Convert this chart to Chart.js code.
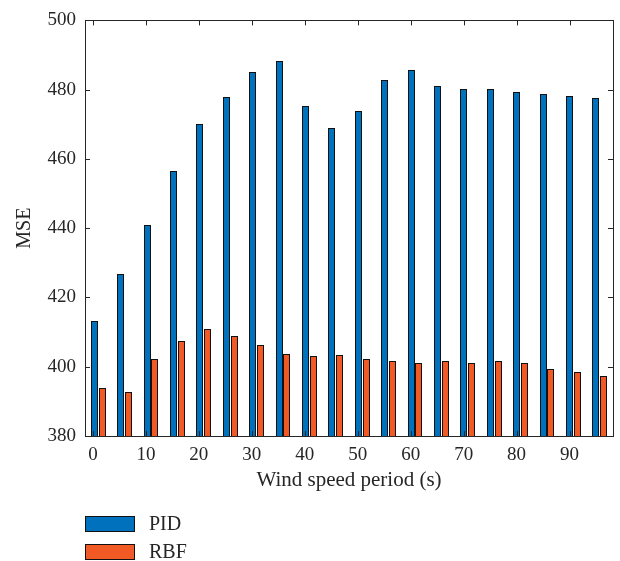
<!DOCTYPE html>
<html>
<head>
<meta charset="utf-8">
<script src="https://cdn.jsdelivr.net/npm/chart.js@4"></script>
<style>
  html, body { margin: 0; padding: 0; background: #fff; }
  #wrap { position: relative; width: 620px; height: 561px; }
  #legend { position: absolute; left: 85px; top: 516px; font-family: "Liberation Serif", serif; font-size: 20px; color: #262626; }
  #legend .item { display: flex; align-items: center; height: 15px; margin-bottom: 13px; }
  #legend .box { width: 48px; height: 14px; border: 1px solid #111; margin-right: 14px; }
</style>
</head>
<body>
<div id="wrap">
  <canvas id="mse" width="620" height="561"></canvas>
  <div id="legend"></div>
</div>
<script>
// wind speed periods (s)
const periods = [0, 5, 10, 15, 20, 25, 30, 35, 40, 45, 50, 55, 60, 65, 70, 75, 80, 85, 90, 95];
const pidMse = [413.3, 426.9, 440.8, 456.6, 470.0, 477.9, 485.2, 488.3, 475.4, 468.8,
                473.8, 482.7, 485.6, 481.1, 480.3, 480.1, 479.4, 478.8, 478.3, 477.5];
const rbfMse = [393.9, 392.6, 402.2, 407.3, 411.0, 408.9, 406.3, 403.6, 403.1, 403.3,
                402.2, 401.7, 401.0, 401.7, 401.2, 401.7, 401.0, 399.4, 398.4, 397.2];
const yTicks = [380, 400, 420, 440, 460, 480, 500];
const xTicks = [0, 10, 20, 30, 40, 50, 60, 70, 80, 90];

const ink = "#262626";
const serif = "'Liberation Serif', 'Times New Roman', serif";

// snap bars to whole pixels so the 1px outlines stay crisp
const snapPlugin = {
  id: "snap",
  afterDatasetsUpdate(chart) {
    chart.data.datasets.forEach((ds, i) => {
      chart.getDatasetMeta(i).data.forEach((el) => {
        const w = Math.round(el.width);
        const left = Math.round(el.x - el.width / 2);
        el.width = w;
        el.x = left + w / 2;
        el.y = Math.round(el.y);
        el.base = Math.round(el.base);
      });
    });
  },
};

// box around the axes with inward tick marks on all four sides
const framePlugin = {
  id: "frame",
  afterDraw(chart) {
    const { ctx, chartArea: a, scales } = chart;
    const len = 5;
    ctx.save();
    ctx.strokeStyle = ink;
    ctx.lineWidth = 1;
    ctx.beginPath();
    scales.y.ticks.forEach((t) => {
      const y = Math.round(scales.y.getPixelForValue(t.value)) + 0.5;
      ctx.moveTo(a.left, y); ctx.lineTo(a.left + len, y);
      ctx.moveTo(a.right, y); ctx.lineTo(a.right - len, y);
    });
    scales.xt.ticks.forEach((t) => {
      const x = Math.round(scales.xt.getPixelForValue(t.value)) + 0.5;
      ctx.moveTo(x, a.top); ctx.lineTo(x, a.top + len);
      ctx.moveTo(x, a.bottom); ctx.lineTo(x, a.bottom - len);
    });
    ctx.stroke();
    ctx.strokeRect(Math.round(a.left) + 0.5, Math.round(a.top) + 0.5,
      Math.round(a.right - a.left), Math.round(a.bottom - a.top));
    ctx.restore();
  },
};

const chart = new Chart(document.getElementById("mse"), {
  type: "bar",
  data: {
    labels: periods,
    datasets: [
      { label: "PID", data: pidMse, backgroundColor: "#0072bd", borderColor: "#111", borderWidth: 1 },
      { label: "RBF", data: rbfMse, backgroundColor: "#f15a24", borderColor: "#111", borderWidth: 1 },
    ],
  },
  options: {
    responsive: false,
    animation: false,
    categoryPercentage: 0.606,
    barPercentage: 0.875,
    layout: { padding: { top: 17, right: 7, left: 0, bottom: 0 } },
    plugins: { legend: { display: false }, tooltip: { enabled: false } },
    scales: {
      x: { display: false, offset: true },
      xt: {
        type: "linear",
        position: "bottom",
        offset: false,
        min: -1.5,
        max: 98.2,
        grid: { display: false, drawTicks: false, offset: false },
        border: { display: false },
        afterBuildTicks: (s) => { s.ticks = xTicks.map((v) => ({ value: v })); },
        afterFit: (s) => { s.height = 125; },
        ticks: { padding: 8, color: ink, font: { family: serif, size: 19 } },
        title: {
          display: true,
          text: "Wind speed period (s)",
          color: ink,
          font: { family: serif, size: 21 },
          padding: { top: 4, bottom: 68 },
        },
      },
      y: {
        min: 380,
        max: 500,
        grid: { display: false, drawTicks: false },
        border: { display: false },
        afterBuildTicks: (s) => { s.ticks = yTicks.map((v) => ({ value: v })); },
        afterFit: (s) => { s.width = 85; },
        ticks: { padding: 9, color: ink, font: { family: serif, size: 19 } },
        title: {
          display: true,
          text: "MSE",
          color: ink,
          font: { family: serif, size: 20 },
          padding: { top: 13, bottom: 0 },
        },
      },
    },
  },
  plugins: [snapPlugin, framePlugin],
});

// legend stacked under the axes
const legend = document.getElementById("legend");
chart.data.datasets.forEach((ds) => {
  const item = document.createElement("div");
  item.className = "item";
  const box = document.createElement("span");
  box.className = "box";
  box.style.background = ds.backgroundColor;
  const txt = document.createElement("span");
  txt.textContent = ds.label;
  item.appendChild(box);
  item.appendChild(txt);
  legend.appendChild(item);
});
</script>
</body>
</html>
